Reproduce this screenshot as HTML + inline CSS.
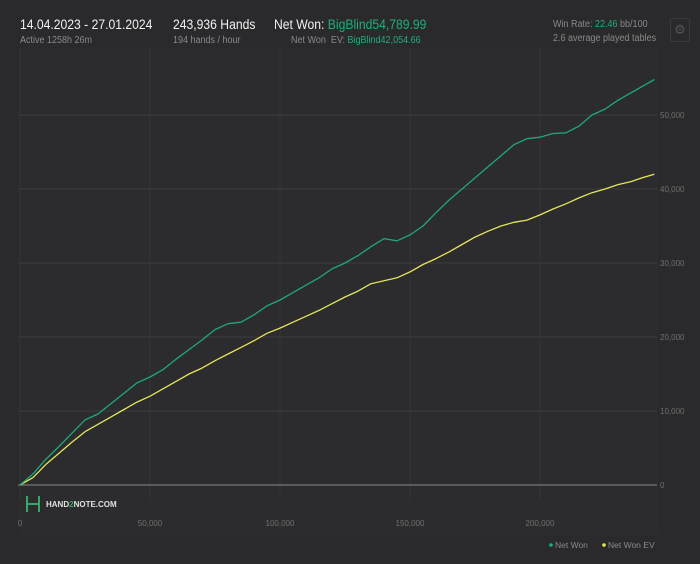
<!DOCTYPE html>
<html><head><meta charset="utf-8">
<style>
html,body{margin:0;padding:0;background:#2a292b;}
body{width:700px;height:564px;overflow:hidden;font-family:"Liberation Sans",sans-serif;position:relative;}
.t{position:absolute;white-space:nowrap;transform:scaleX(0.9);transform-origin:left top;}
</style></head>
<body>
<div class="t" style="left:20px;top:17px;font-size:13.5px;color:#f0f0f0">14.04.2023 - 27.01.2024</div>
<div class="t" style="left:20px;top:35px;font-size:10px;color:#8a8a8a">Active 1258h 26m</div>
<div class="t" style="left:173px;top:17px;font-size:13.5px;color:#f0f0f0">243,936 Hands</div>
<div class="t" style="left:173px;top:35px;font-size:10px;color:#8a8a8a">194 hands / hour</div>
<div class="t" style="left:274px;top:17px;font-size:13.5px;color:#f0f0f0">Net Won: <span style="color:#1fae7c">BigBlind54,789.99</span></div>
<div class="t" style="left:291px;top:35px;font-size:10px;color:#8a8a8a">Net Won &nbsp;EV: <span style="color:#1fae7c">BigBlind42,054.66</span></div>
<div class="t" style="left:553px;top:19px;font-size:10px;color:#8a8a8a">Win Rate: <span style="color:#1fae7c">22.46</span> bb/100</div>
<div class="t" style="left:553px;top:33px;font-size:10px;color:#8a8a8a">2.6 average played tables</div>
<div style="position:absolute;left:670px;top:18px;width:18px;height:22px;border:1px solid #3a393b;border-radius:2px;color:#555;font-size:13px;text-align:center;line-height:22px">⚙</div>
<svg id="chart" width="700" height="564" style="position:absolute;left:0;top:0"></svg>
<script>
const hands=[0,5,10,15,20,25,30,35,40,45,50,55,60,65,70,75,80,85,90,95,100,105,110,115,120,125,130,135,140,145,150,155,160,165,170,175,180,185,190,195,200,205,210,215,220,225,230,235,240,244];
const netWon=[0,1.5,3.5,5.2,7.0,8.8,9.6,11.0,12.4,13.8,14.6,15.6,17.0,18.3,19.6,21.0,21.8,22.0,23.0,24.2,25.0,26.0,27.0,28.0,29.2,30.0,31.0,32.2,33.3,33.0,33.8,35.0,36.8,38.5,40.0,41.5,43.0,44.5,46.0,46.8,47.0,47.5,47.6,48.5,50.0,50.8,52.0,53.0,54.0,54.8];
const netWonEV=[0,1.0,2.8,4.3,5.8,7.2,8.2,9.2,10.2,11.2,12.0,13.0,14.0,15.0,15.8,16.8,17.7,18.6,19.5,20.5,21.2,22.0,22.8,23.6,24.5,25.4,26.2,27.2,27.6,28.0,28.8,29.8,30.6,31.5,32.5,33.5,34.3,35.0,35.5,35.8,36.5,37.3,38.0,38.8,39.5,40.0,40.6,41.0,41.6,42.0];
const xTicks=[0,50000,100000,150000,200000];
const xTickLabels=["0","50,000","100,000","150,000","200,000"];
const yTicks=[0,10000,20000,30000,40000,50000];
const yTickLabels=["0","10,000","20,000","30,000","40,000","50,000"];
const svg=document.getElementById('chart');const NS="http://www.w3.org/2000/svg";
const X=v=>20+v*130/50000, Y=v=>485-v*74/10000;
function mk(t,a){const e=document.createElementNS(NS,t);for(const k in a)e.setAttribute(k,a[k]);svg.appendChild(e);return e;}
const bg=mk('rect',{x:18,y:48,width:640,height:485-48+50,fill:'#2c2b2d'});


xTicks.forEach((v,i)=>{
 const l=mk('line',{x1:X(v),x2:X(v),y1:48,y2:500,stroke:'#353436','stroke-width':1});
 
 
 const t=mk('text',{x:X(v),y:526,fill:'#707070','font-size':8,'text-anchor':'middle','font-family':'Liberation Sans'});
 t.textContent=xTickLabels[i];
 
 
});
yTicks.forEach((v,i)=>{
 const l=mk('line',{x1:18,x2:657,y1:Y(v),y2:Y(v),stroke:v===0?'#8a8a8a':'#3c3b3d','stroke-width':1});
 
 
 const t=mk('text',{x:660,y:Y(v)+3,fill:'#707070','font-size':8,'font-family':'Liberation Sans'});
 t.textContent=yTickLabels[i];
 
 
});
function line(vals,color,name){
 const d=hands.map((h,i)=>(i?'L':'M')+X(h*1000).toFixed(1)+','+Y(vals[i]*1000).toFixed(1)).join('');
 const p=mk('path',{d:d,fill:'none',stroke:color,'stroke-width':1.3,'stroke-linejoin':'round'});
 
 
}
line(netWonEV,'#e4e65a','net-won-ev-line');
line(netWon,'#1fa87a','net-won-line');
const lg=mk('g',{});


lg.innerHTML='<path d="M27,496 V512 M27,504 H39 M39,496 V512" stroke="#3aa56a" stroke-width="2" fill="none"/><text x="46" y="507" fill="#e0e0e0" font-size="8" font-weight="bold" font-family="Liberation Sans">HAND<tspan fill="#3aa56a">2</tspan>NOTE.COM</text>';
const leg=[['#1fae7c','Net Won',551],['#e4e65a','Net Won  EV',604]];
leg.forEach(l=>{
 const c=mk('circle',{cx:l[2],cy:545,r:1.8,fill:l[0]});
 
 
 const t=mk('text',{x:l[2]+4,y:548,fill:'#8a8a8a','font-size':8.5,'font-family':'Liberation Sans','xml:space':'preserve'});
 t.textContent=l[1];
 
 
});
</script>
</body></html>
